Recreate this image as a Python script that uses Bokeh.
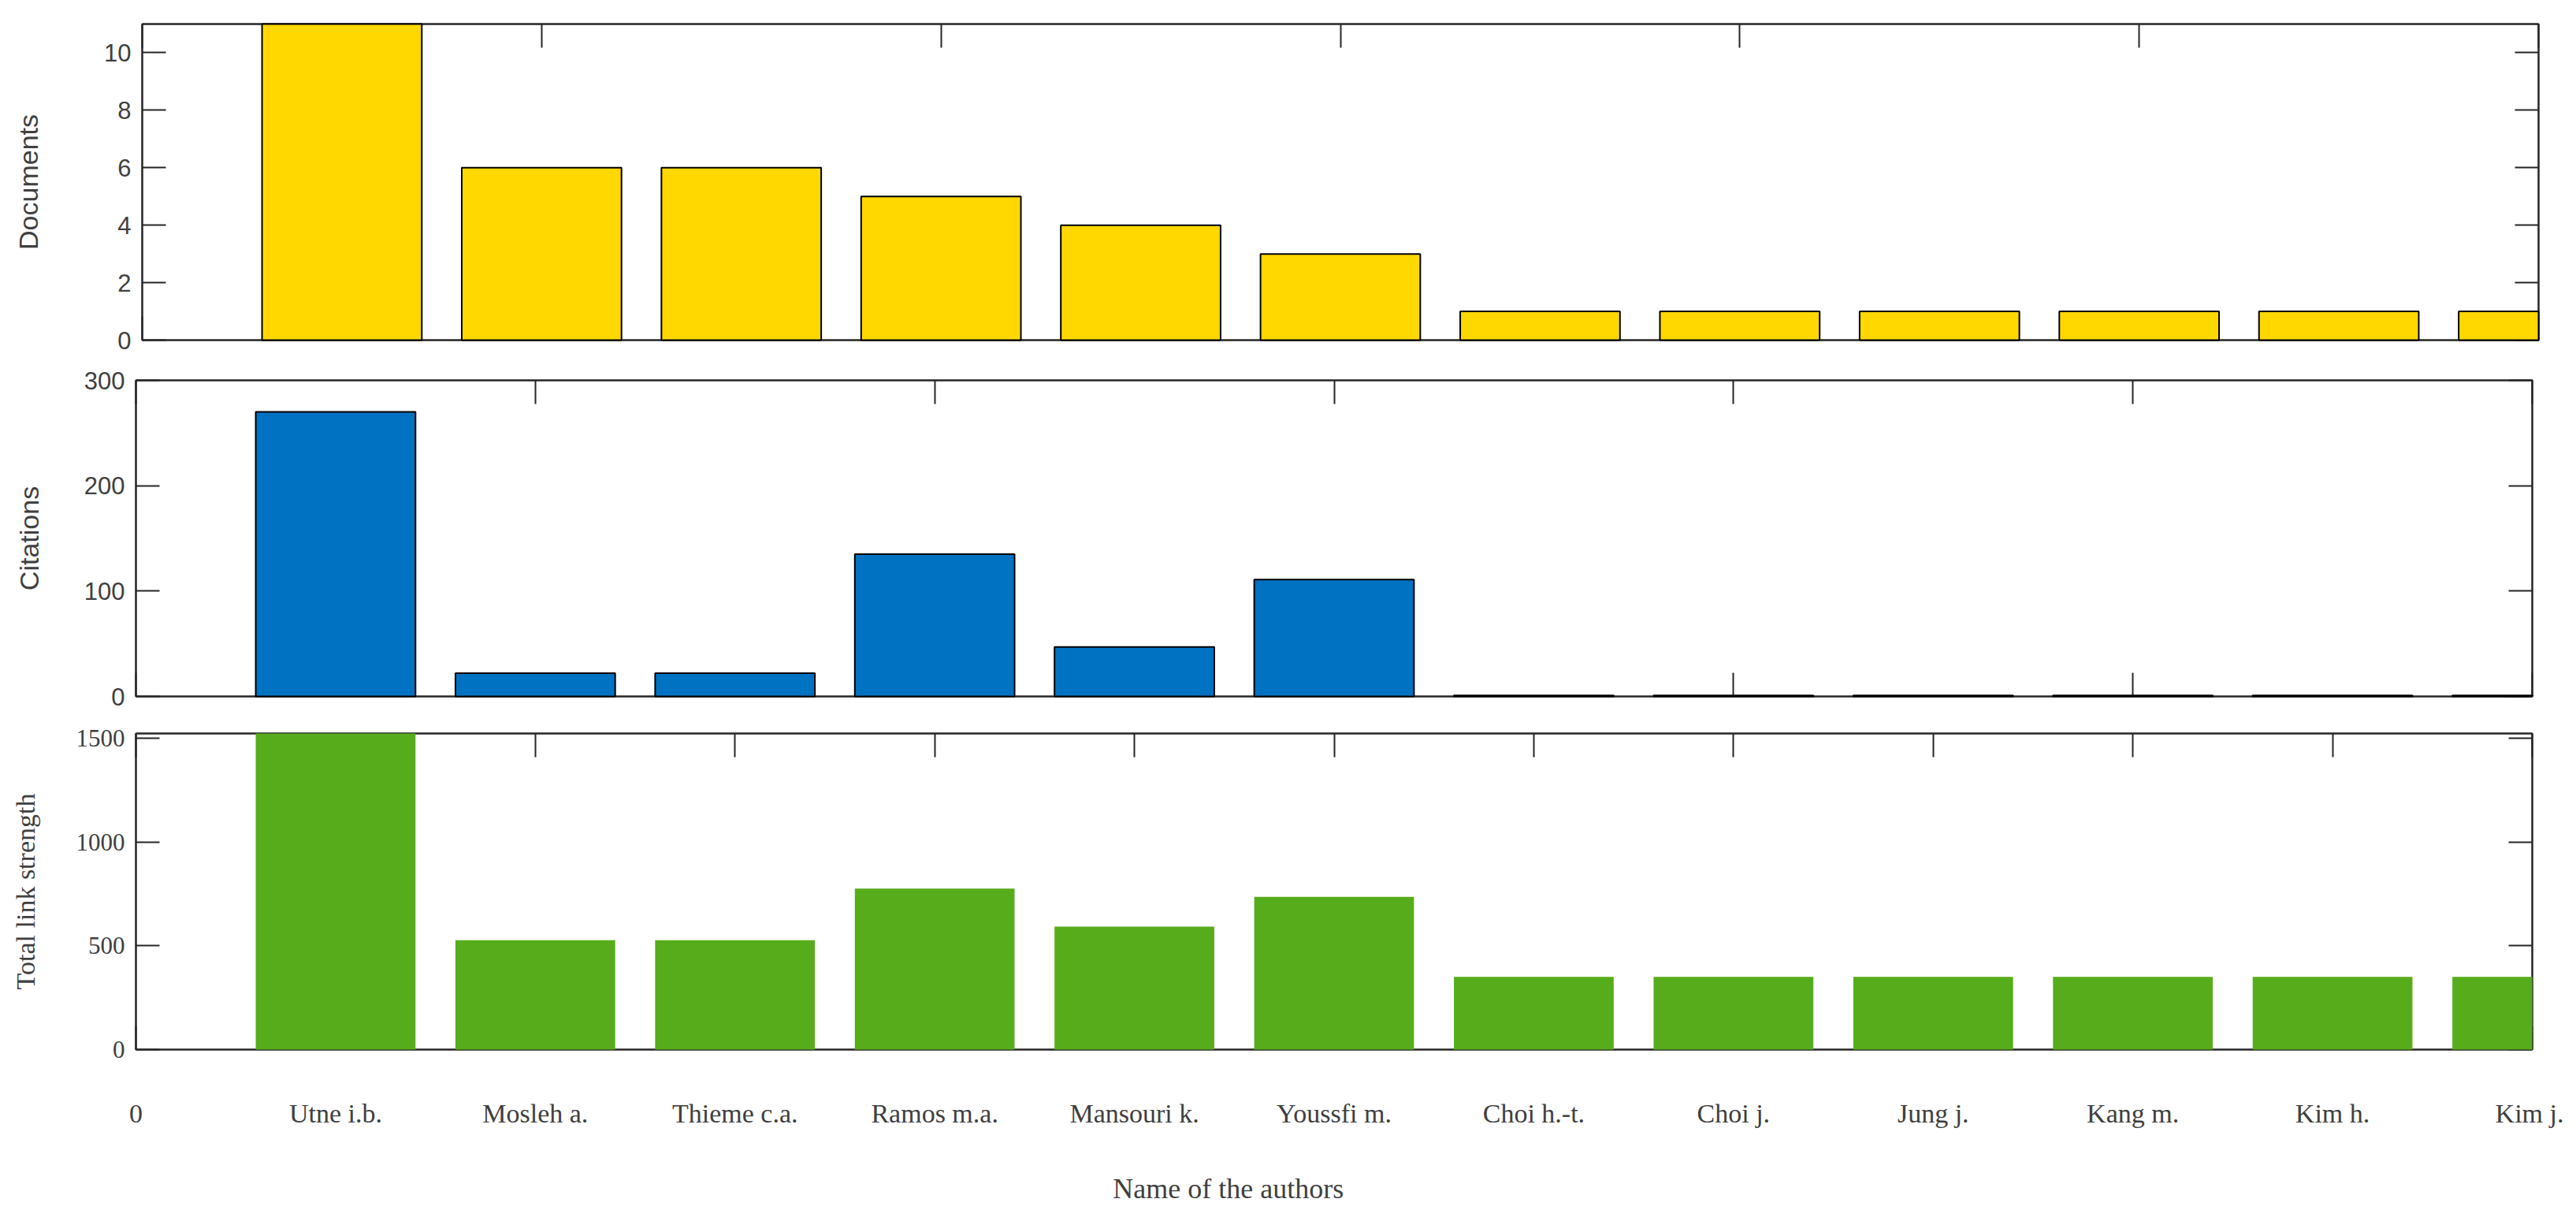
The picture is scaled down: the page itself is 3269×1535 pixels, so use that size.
from bokeh.plotting import figure
from bokeh.models import Range1d, LinearAxis, FixedTicker, CustomJSTickFormatter
from bokeh.layouts import column
from bokeh.embed import file_html
from bokeh.resources import INLINE

# ---------------- data ----------------
authors = ["Utne i.b.", "Mosleh a.", "Thieme c.a.", "Ramos m.a.", "Mansouri k.",
           "Youssfi m.", "Choi h.-t.", "Choi j.", "Jung j.", "Kang m.", "Kim h.", "Kim j."]
positions = list(range(1, len(authors) + 1))
documents = [11, 6, 6, 5, 4, 3, 1, 1, 1, 1, 1, 1]
citations = [270, 22, 22, 135, 47, 111, 1, 1, 1, 1, 1, 1]
link_strength = [1522, 527, 527, 775, 592, 735, 350, 350, 350, 350, 350, 350]

doc_ticks = [0, 2, 4, 6, 8, 10]
cit_ticks = [0, 100, 200, 300]
tls_ticks = [0, 500, 1000, 1500]
x_ticks_even = [0, 2, 4, 6, 8, 10, 12]
x_ticks_all = list(range(0, 13))
x_title = "Name of the authors"
x_title_pos = [5.47]

AX = "#262626"
TXT = "#404040"
SANS = "Liberation Sans"
SERIF = "Liberation Serif"
FIG_W = 3253
LEFT_B = 172
RIGHT_B = 40


def blank():
    return CustomJSTickFormatter(code="return ''")


def make_panel(height, top_b, bot_b, ymax, yticks, xticks,
               font, ylabel, ylabel_standoff, values, color, edge, show_xlabels=False):
    p = figure(width=FIG_W, height=height, output_backend="svg", toolbar_location=None,
               x_range=Range1d(0, 12), y_range=Range1d(0, ymax),
               x_axis_location=None, y_axis_location=None,
               min_border_top=top_b, min_border_bottom=bot_b,
               min_border_left=LEFT_B, min_border_right=RIGHT_B)
    p.grid.visible = False
    p.outline_line_color = AX
    p.outline_line_width = 2
    p.background_fill_color = "white"
    p.border_fill_color = "white"

    def style(ax, ticks):
        ax.ticker = FixedTicker(ticks=ticks)
        ax.major_tick_in = 30
        ax.major_tick_out = 0
        ax.minor_tick_in = 0
        ax.minor_tick_out = 0
        ax.major_tick_line_color = AX
        ax.major_tick_line_width = 2
        ax.axis_line_color = AX
        ax.axis_line_width = 2
        ax.major_label_text_color = TXT
        ax.major_label_text_font = font

    left = LinearAxis()
    style(left, yticks)
    left.major_label_text_font_size = "31px"
    left.major_label_standoff = 14
    left.axis_label = ylabel
    left.axis_label_text_font = font
    left.axis_label_text_font_size = "34px"
    left.axis_label_text_font_style = "normal"
    left.axis_label_text_color = TXT
    left.axis_label_standoff = ylabel_standoff
    p.add_layout(left, "left")

    right = LinearAxis()
    style(right, yticks)
    right.formatter = blank()
    right.major_label_standoff = 0
    p.add_layout(right, "right")

    top = LinearAxis()
    style(top, xticks)
    top.formatter = blank()
    top.major_label_standoff = 0
    p.add_layout(top, "above")

    bottom = LinearAxis()
    style(bottom, x_ticks_all if show_xlabels else xticks)
    if show_xlabels:
        bottom.major_label_overrides = {i + 1: name for i, name in enumerate(authors)}
        bottom.major_label_text_font_size = "34px"
        bottom.major_label_standoff = 62
    else:
        bottom.formatter = blank()
        bottom.major_label_standoff = 0
    p.add_layout(bottom, "below")

    if show_xlabels:
        # x-axis title, placed as the single label of a second, line-less axis
        t_ax = LinearAxis(ticker=FixedTicker(ticks=x_title_pos),
                          formatter=CustomJSTickFormatter(code="return '%s'" % x_title))
        t_ax.major_tick_in = 0
        t_ax.major_tick_out = 0
        t_ax.minor_tick_in = 0
        t_ax.minor_tick_out = 0
        t_ax.axis_line_color = None
        t_ax.major_tick_line_color = None
        t_ax.major_label_text_font = font
        t_ax.major_label_text_font_size = "36px"
        t_ax.major_label_text_color = TXT
        t_ax.major_label_standoff = 54
        p.add_layout(t_ax, "below")

    r = p.vbar(x=positions, top=values, width=0.8, bottom=0, fill_color=color,
               line_color=edge, line_width=2 if edge else 0)
    r.level = "overlay"
    return p


p1 = make_panel(456, 30, 25, 11, doc_ticks, x_ticks_even, SANS,
                "Documents", 74, documents, "#FFD800", "black")
p1.styles = {"margin-left": "8px"}
p2 = make_panel(450, 26, 23, 300, cit_ticks, x_ticks_even, SANS,
                "Citations", 48, citations, "#0072C2", "black")
p3 = make_panel(629, 24, 204, 1522, tls_ticks, x_ticks_all, SERIF,
                "Total link strength", 43, link_strength, "#57AC1B", None, show_xlabels=True)

layout = column(p1, p2, p3, spacing=0)
open("out.html", "w").write(file_html(layout, INLINE))
